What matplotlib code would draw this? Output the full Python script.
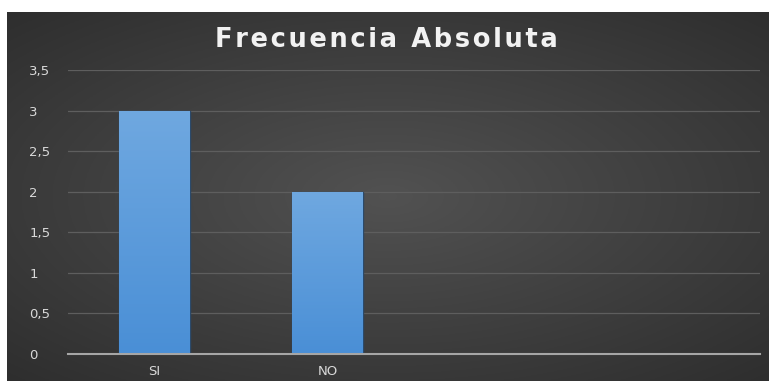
import matplotlib.pyplot as plt
import numpy as np

# datos
categorias = ["SI", "NO", "", ""]
frecuencia = [3, 2, 0, 0]
yticks = [0, 0.5, 1, 1.5, 2, 2.5, 3, 3.5]
ytick_labels = ["0", "0,5", "1", "1,5", "2", "2,5", "3", "3,5"]
titulo = "Frecuencia Absoluta"

fig = plt.figure(figsize=(7.69, 3.81), dpi=100)
fig.patch.set_facecolor("white")

# fondo oscuro con degradado radial
bg = fig.add_axes([7 / 769, 0, 762 / 769, 369 / 381])
yy, xx = np.mgrid[-1:1:200j, -1:1:400j]
r = np.sqrt((xx / 1.15) ** 2 + (yy / 1.1) ** 2)
grad = np.clip(1 - r / 1.45, 0, 1)
val = 0.16 + 0.16 * grad
img = np.dstack([val, val, val])
bg.imshow(img, aspect="auto", extent=[0, 1, 0, 1])
bg.set_axis_off()

ax = fig.add_axes([68 / 769, 27 / 381, 692 / 769, 284 / 381])
ax.patch.set_alpha(0)
x = np.arange(len(categorias))
bars = ax.bar(x, frecuencia, width=0.41, color="#5b9bd5", edgecolor="#2b4a6b", linewidth=1.0, zorder=3)

# degradado en las barras
cmap_barra = plt.matplotlib.colors.LinearSegmentedColormap.from_list("b", ["#4a8fd6", "#6fa8e0"])
grad_bar = np.linspace(0, 1, 100).reshape(-1, 1)
for b in bars:
    if b.get_height() == 0:
        b.set_visible(False)
        continue
    im = ax.imshow(grad_bar, cmap=cmap_barra,
                   extent=[b.get_x(), b.get_x() + b.get_width(), 0, b.get_height()],
                   aspect="auto", origin="lower", zorder=4)
    im.set_clip_path(b)

ax.set_xlim(-0.5, len(categorias) - 0.5)
ax.set_ylim(0, 3.5)
ax.set_yticks(yticks)
ax.set_yticklabels(ytick_labels)
ax.set_xticks(x[:2])
ax.set_xticklabels(categorias[:2])
ax.tick_params(colors="#d9d9d9", labelsize=9.5, length=0, pad=8)
ax.tick_params(axis="y", pad=28)
for lbl in ax.get_yticklabels():
    lbl.set_horizontalalignment("left")
ax.grid(axis="y", color="#5e5e5e", linewidth=0.9, zorder=0)
for s in ["top", "right", "left"]:
    ax.spines[s].set_visible(False)
ax.spines["bottom"].set_color("#a6a6a6")
ax.spines["bottom"].set_linewidth(1.5)
ax.spines["bottom"].set_zorder(6)

# titulo con algo de espaciado entre letras
titulo_esp = "\u200a".join(titulo)
fig.text(0.502, 0.895, titulo_esp, ha="center", va="center", color="#f2f2f2",
         fontsize=18.5, fontweight="bold", family="DejaVu Sans")

plt.savefig("out.png", dpi=100)
